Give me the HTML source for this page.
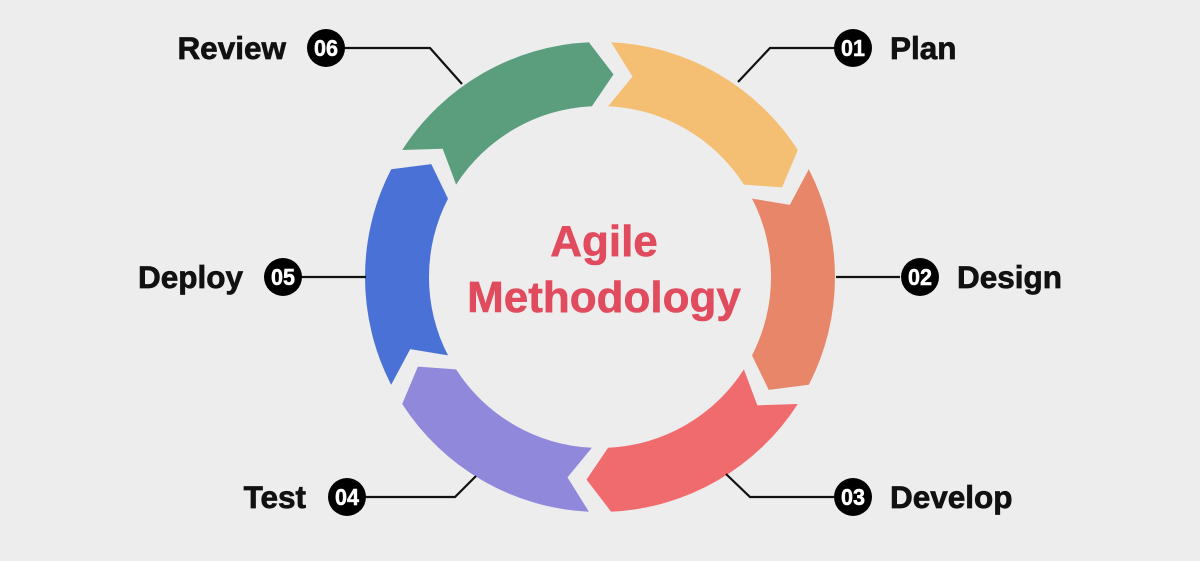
<!DOCTYPE html>
<html><head><meta charset="utf-8"><style>
html,body{margin:0;padding:0;background:#EEEDED;}
body{width:1200px;height:556px;overflow:hidden;font-family:"Liberation Sans",Arial,sans-serif;}
</style></head><body>
<svg id="s" width="1200" height="556" viewBox="0 0 1200 556" xmlns="http://www.w3.org/2000/svg">
<g id="segs"></g>
<g stroke="#111" stroke-width="2.2" fill="none">
<polyline points="836,48 770,48 738,82"/>
<polyline points="836,277 900,277"/>
<polyline points="836,497 750,497 726,474"/>
<polyline points="345,497 455,497 476,476"/>
<polyline points="282,277 366,277"/>
<polyline points="326,48 430,48 462,84"/>
</g>
<g fill="#000">
<circle cx="853" cy="48" r="19"/><circle cx="920" cy="277" r="19"/><circle cx="853" cy="497" r="19"/>
<circle cx="347" cy="497" r="19"/><circle cx="283" cy="277" r="19"/><circle cx="326" cy="48" r="19"/>
</g>
<g fill="#fff" font-weight="bold" font-size="23" text-anchor="middle" stroke="#fff" stroke-width="0.5">
<text x="853" y="56" textLength="24" lengthAdjust="spacingAndGlyphs">01</text><text x="920" y="285" textLength="24" lengthAdjust="spacingAndGlyphs">02</text><text x="853" y="505" textLength="24" lengthAdjust="spacingAndGlyphs">03</text>
<text x="347" y="505" textLength="24" lengthAdjust="spacingAndGlyphs">04</text><text x="283" y="285" textLength="24" lengthAdjust="spacingAndGlyphs">05</text><text x="326" y="56" textLength="24" lengthAdjust="spacingAndGlyphs">06</text>
</g>
<g fill="#111" font-weight="bold" font-size="31.5" stroke="#111" stroke-width="0.7">
<text x="890" y="59">Plan</text><text x="957" y="288">Design</text><text x="890" y="508">Develop</text>
<text x="306" y="508" text-anchor="end">Test</text><text x="243" y="288" text-anchor="end">Deploy</text><text x="286" y="59" text-anchor="end">Review</text>
</g>
<g fill="#E14B5E" font-weight="bold" font-size="44" text-anchor="middle" stroke="#E14B5E" stroke-width="0.6">
<text x="604" y="256">Agile</text><text x="604" y="312">Methodology</text>
</g>
</svg>
<script>
var cx=600,cy=277,R=235,r=171,rm=(R+r)/2,g=5.4,t=6.5;
var cols=["#F4BF72","#E8866A","#F06B6E","#9088DB","#4A71D6","#5A9E7E"];
function p(rad,a){a=a*Math.PI/180;return (cx+rad*Math.cos(a)).toFixed(1)+","+(cy+rad*Math.sin(a)).toFixed(1);}
var h="";
for(var i=0;i<6;i++){
 var a0=-90+60*i+g/2,a1=-90+60*(i+1)-g/2;
 var d="M"+p(R,a0)+" A"+R+","+R+" 0 0 1 "+p(R,a1)+" L"+p(rm,a1+t)+" L"+p(r,a1)+
 " A"+r+","+r+" 0 0 0 "+p(r,a0)+" L"+p(rm,a0+t)+" Z";
 h+='<path d="'+d+'" fill="'+cols[i]+'"/>';
}
document.getElementById("segs").innerHTML=h;
</script>
</body></html>
